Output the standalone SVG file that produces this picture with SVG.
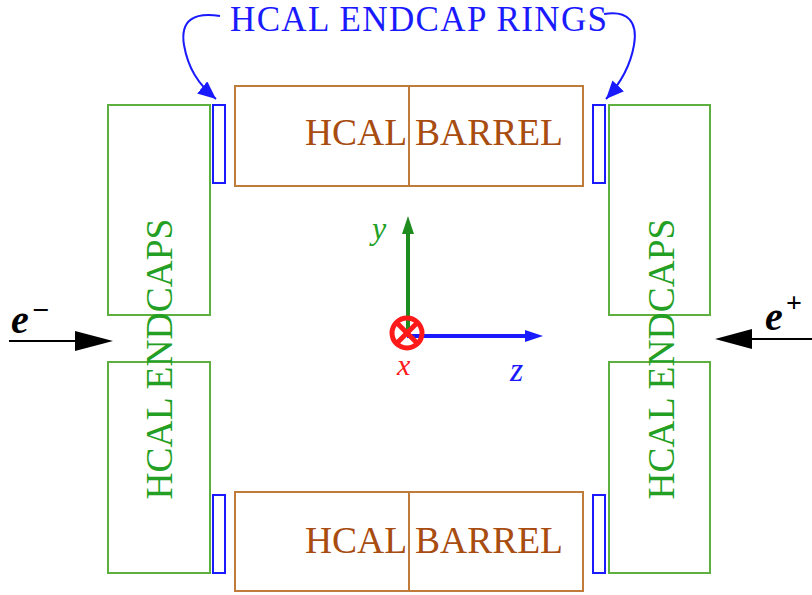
<svg xmlns="http://www.w3.org/2000/svg" width="812" height="595" viewBox="0 0 812 595">
<style>
.endcap{fill:none;stroke:#5db040;stroke-width:2}
.ring{fill:none;stroke:#1a1aff;stroke-width:2}
.barrel{fill:none;stroke:#c07a3a;stroke-width:2}
.t{font-family:"Liberation Serif","Times New Roman",serif}
.bt{fill:#a84c10;font-size:37.5px}
.gt{fill:#23a023;font-size:37.5px}
</style>
<defs>
<marker id="bh" markerUnits="userSpaceOnUse" markerWidth="20" markerHeight="16" refX="18" refY="8" orient="auto">
<path d="M0,0 L18,8 L0,16 z" fill="#1a1aff"/>
</marker>
</defs>
<rect width="812" height="595" fill="#fff"/>
<g id="endcap-left-top"><rect class="endcap" x="108" y="105" width="102" height="210"/></g>
<g id="endcap-left-bottom"><rect class="endcap" x="108" y="362" width="102" height="211"/></g>
<g id="endcap-right-top"><rect class="endcap" x="609" y="105" width="101" height="210"/></g>
<g id="endcap-right-bottom"><rect class="endcap" x="609" y="362" width="101" height="211"/></g>
<g id="ring-lt"><rect class="ring" x="213" y="105" width="12" height="78"/></g>
<g id="ring-lb"><rect class="ring" x="213" y="495" width="12" height="78"/></g>
<g id="ring-rt"><rect class="ring" x="593" y="105" width="12" height="78"/></g>
<g id="ring-rb"><rect class="ring" x="593" y="495" width="12" height="78"/></g>
<g id="barrel-top"><rect class="barrel" x="235" y="86" width="348" height="100"/><line class="barrel" x1="409" y1="86" x2="409" y2="186"/>
<text class="t bt" x="305" y="145">HCAL BARREL</text></g>
<g id="barrel-bottom"><rect class="barrel" x="235" y="492" width="348" height="99"/><line class="barrel" x1="409" y1="492" x2="409" y2="591"/>
<text class="t bt" x="305" y="553">HCAL BARREL</text></g>
<g id="label-endcaps-left"><text class="t gt" text-anchor="middle" transform="translate(172,359) rotate(-90)">HCAL ENDCAPS</text></g>
<g id="label-endcaps-right"><text class="t gt" text-anchor="middle" transform="translate(674,359) rotate(-90)">HCAL ENDCAPS</text></g>
<g id="label-rings"><text class="t" x="230" y="31" font-size="35" fill="#1a1aff" textLength="377">HCAL ENDCAP RINGS</text></g>
<g id="connectors">
<path d="M220,16 C194,12 180,20 184,45 C188,68 198,84 216,99" fill="none" stroke="#1a1aff" stroke-width="2" marker-end="url(#bh)"/>
<path d="M604,14 C628,10 638,22 634,45 C630,68 620,84 606,99" fill="none" stroke="#1a1aff" stroke-width="2" marker-end="url(#bh)"/>
<line x1="9" y1="341" x2="80" y2="341" stroke="#000" stroke-width="2"/>
<path d="M113,341 L75,331 L75,351 z" fill="#000"/>
<line x1="812" y1="339" x2="745" y2="339" stroke="#000" stroke-width="2"/>
<path d="M715,339 L752,329 L752,349 z" fill="#000"/>
<line x1="408" y1="332" x2="408" y2="230" stroke="#1e8c1e" stroke-width="4"/>
<path d="M408,216 L402,234 L414,234 z" fill="#1e8c1e"/>
<line x1="407" y1="336" x2="528" y2="336" stroke="#1a1aff" stroke-width="4"/>
<path d="M543,336 L525,330 L525,342 z" fill="#1a1aff"/>
</g>
<g id="origin">
<circle cx="407" cy="333" r="15" fill="none" stroke="#ff1a1a" stroke-width="5"/>
<line x1="396.5" y1="322.5" x2="417.5" y2="343.5" stroke="#ff1a1a" stroke-width="5"/>
<line x1="417.5" y1="322.5" x2="396.5" y2="343.5" stroke="#ff1a1a" stroke-width="5"/>
</g>
<g id="axis-labels">
<text class="t" x="372" y="239" font-size="32" font-style="italic" fill="#23a023">y</text>
<text class="t" x="397" y="375" font-size="30" font-style="italic" fill="#ff1a1a">x</text>
<text class="t" x="510" y="381" font-size="34" font-style="italic" fill="#1a1aff">z</text>
</g>
<g id="beam-labels">
<text class="t" x="11" y="333" font-size="40" font-style="italic" font-weight="bold" fill="#000">e</text>
<text class="t" x="32" y="320" font-size="30" font-weight="bold" fill="#000">−</text>
<text class="t" x="765" y="330" font-size="40" font-style="italic" font-weight="bold" fill="#000">e</text>
<text class="t" x="786" y="312" font-size="28" font-weight="bold" fill="#000">+</text>
</g>
</svg>
